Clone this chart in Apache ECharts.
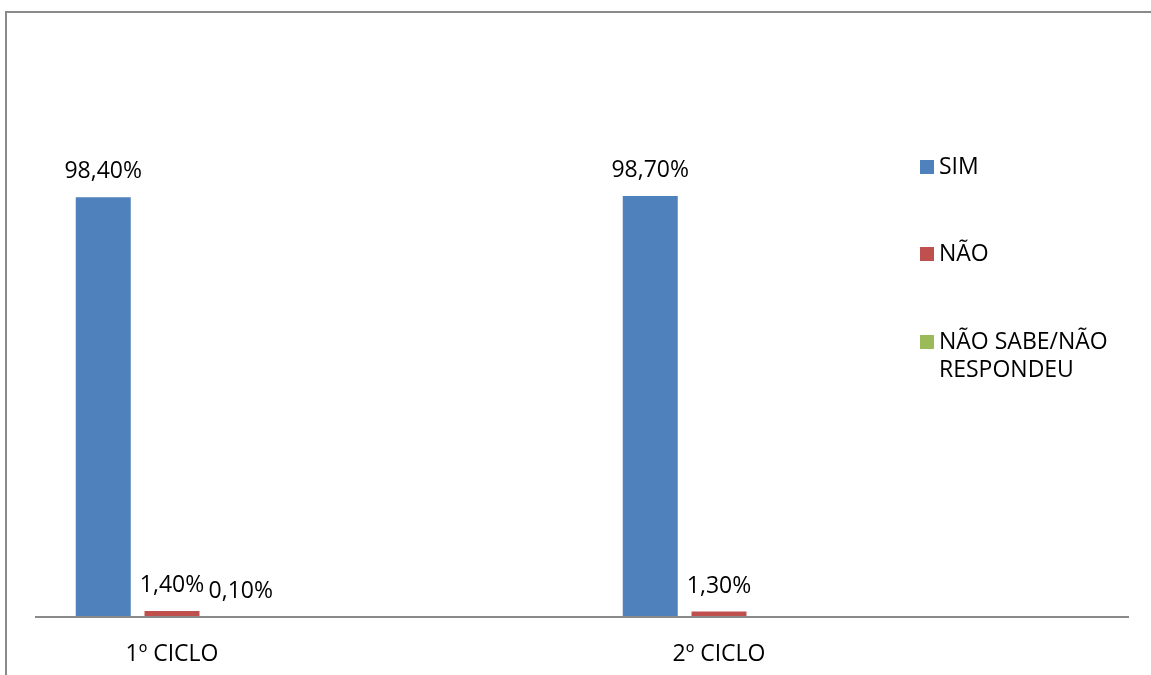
<!DOCTYPE html>
<html>
<head>
<meta charset="utf-8">
<script src="https://cdn.jsdelivr.net/npm/echarts@6/dist/echarts.min.js"></script>
<style>
  html, body { margin: 0; padding: 0; background: #ffffff; }
  #chart { width: 1151px; height: 675px; }
</style>
</head>
<body>
<div id="chart"></div>
<script>
// Categories and series values (percent)
const categories = ['1º CICLO', '2º CICLO'];
const seriesNames = ['SIM', 'NÃO', 'NÃO SABE/NÃO\nRESPONDEU'];
const simValues = [98.4, 98.7];
const naoValues = [1.4, 1.3];
const nsrValues = [0.1, null];
const colors = ['#4F81BD', '#C0504D', '#9BBB59'];

const FONT = '"Open Sans", sans-serif';
const FS = 23;
const fmtPct = p => p.value == null ? '' : p.value.toFixed(2).replace('.', ',') + '%';

function barSeries(name, values, color) {
  return {
    name: name,
    type: 'bar',
    data: values,
    barWidth: 55,
    barGap: '25%',
    clip: false,
    itemStyle: { color: color },
    label: {
      show: true,
      position: 'top',
      distance: 14,
      formatter: fmtPct,
      color: '#000',
      fontFamily: FONT,
      fontSize: FS
    }
  };
}

// One legend block per series so the entries sit at fixed heights;
// the wrapped entry keeps its swatch beside the first line.
function legendAt(name, top, firstLineOnSwatch) {
  return {
    orient: 'vertical',
    left: 915,
    top: top,
    itemWidth: 14,
    itemHeight: 14,
    itemGap: 0,
    icon: 'rect',
    selectedMode: false,
    data: [name],
    formatter: firstLineOnSwatch ? (n => ' \n' + n) : (n => n),
    textStyle: {
      fontFamily: FONT,
      fontSize: FS,
      color: '#000',
      lineHeight: 28
    }
  };
}

const chart = echarts.init(document.getElementById('chart'), null, { renderer: 'canvas' });
chart.setOption({
  backgroundColor: '#ffffff',
  animation: false,
  grid: { left: 172, width: 547, top: 105, bottom: 58 },
  xAxis: {
    type: 'category',
    data: categories,
    boundaryGap: false,
    axisLine: { show: false },
    axisTick: { show: false },
    axisLabel: {
      margin: 26,
      color: '#000',
      fontFamily: FONT,
      fontSize: FS
    }
  },
  yAxis: { type: 'value', min: 0, max: 120, show: false, splitLine: { show: false } },
  legend: [
    legendAt(seriesNames[0], 148, false),
    legendAt(seriesNames[1], 235, false),
    legendAt(seriesNames[2], 295, true)
  ],
  series: [
    barSeries(seriesNames[0], simValues, colors[0]),
    barSeries(seriesNames[1], naoValues, colors[1]),
    barSeries(seriesNames[2], nsrValues, colors[2])
  ],
  graphic: [
    {
      type: 'rect',
      z: 100,
      shape: { x: 6, y: 12, width: 1200, height: 700 },
      style: { fill: 'none', stroke: '#8a8a8a', lineWidth: 2 }
    },
    {
      type: 'line',
      z: 100,
      shape: { x1: 35, y1: 617, x2: 1129, y2: 617 },
      style: { stroke: '#8a8a8a', lineWidth: 2 }
    }
  ]
});
</script>
</body>
</html>
